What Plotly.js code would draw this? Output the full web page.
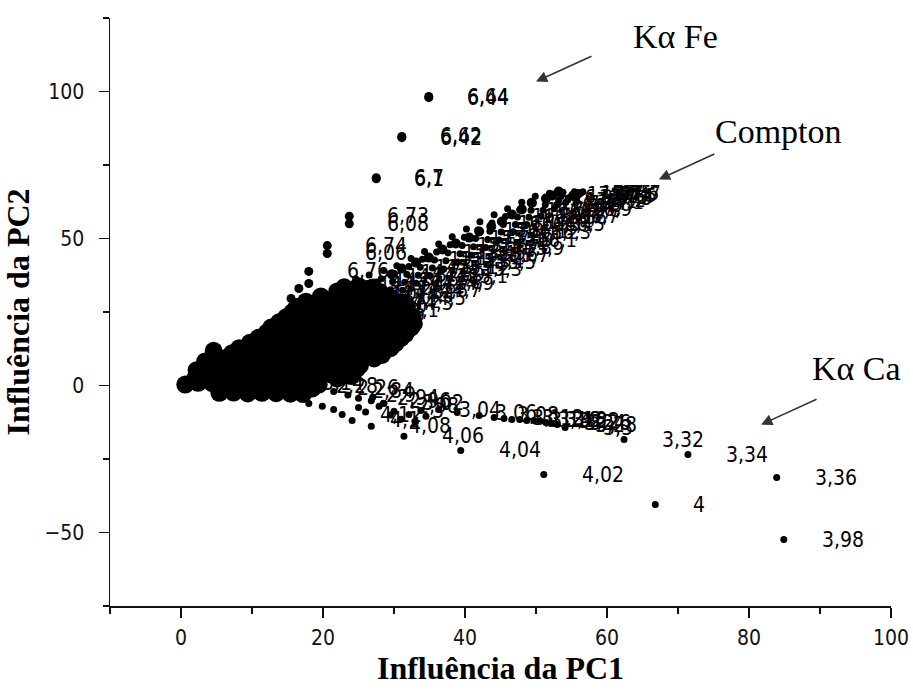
<!DOCTYPE html>
<html><head><meta charset="utf-8">
<script src="https://cdn.plot.ly/plotly-3.0.1.min.js"></script>
<style>html,body{margin:0;padding:0;background:#fff}#chart{width:913px;height:699px}</style>
</head><body><div id="chart"></div>
<script>
// ---------- DATA ----------
// Dense cloud of low-energy loadings near the origin
const blobX = [
  22, 24, 26, 28,
  17.6, 19.6, 21.6, 23.6, 25.6, 27.6, 29.6, 31,
  15.7, 17.7, 19.7, 21.7, 23.7, 25.7, 27.7, 29.7, 31.7,
  13.8, 15.8, 17.8, 19.8, 21.8, 23.8, 25.8, 27.8, 29.8, 31.8, 32.8,
  12.1, 14.1, 16.1, 18.1, 20.1, 22.1, 24.1, 26.1, 28.1, 30.1, 31.6,
  9.7, 11.7, 13.7, 15.7, 17.7, 19.7, 21.7, 23.7, 25.7, 27.7, 29.7, 30.2,
  7.2, 9.2, 11.2, 13.2, 15.2, 17.2, 19.2, 21.2, 23.2, 25.2, 27.2, 28.3,
  5.4, 7.4, 9.4, 11.4, 13.4, 15.4, 17.4, 19.4, 21.4, 23.4, 25.2,
  3.2, 5.2, 7.2, 9.2, 11.2, 13.2, 15.2, 17.2, 19.2, 21.2, 23.2, 24,
  0.6, 2.4, 4.4, 6.4, 8.4, 10.4, 12.4, 14.4, 16.4, 18.4, 19.4,
  5.4, 7.4, 9.4, 11.4, 13.4, 15.4, 17.2,
  4.6, 3.4, 2.2,
  // points on the cloud's outline
  19.7, 16.3, 14.8, 12.7, 10.9, 8.2, 6.0, 4.2, 2.0,
  29.0, 31.8, 32.6, 32.4, 31.0, 29.5, 27.2, 24.8, 22.0, 18.5,
  23.0, 25.0, 27.0
];
const blobY = [
  32, 32.3, 32.2, 31.8,
  28.5, 28.7, 28.4, 28.6, 28.5, 28.3, 28.6, 28.2,
  25, 25.2, 24.9, 25.1, 25, 24.8, 25.1, 25, 24.7,
  21.5, 21.7, 21.4, 21.6, 21.5, 21.3, 21.6, 21.5, 21.4, 21.2, 21,
  18, 18.2, 17.9, 18.1, 18, 17.8, 18.1, 18, 17.9, 17.7, 17.5,
  14.5, 14.7, 14.4, 14.6, 14.5, 14.3, 14.6, 14.5, 14.4, 14.2, 14, 14.3,
  11, 11.2, 10.9, 11.1, 11, 10.8, 11.1, 11, 10.9, 10.7, 10.5, 10.4,
  7.5, 7.7, 7.4, 7.6, 7.5, 7.3, 7.6, 7.5, 7.4, 7.2, 6.8,
  4, 4.2, 3.9, 4.1, 4, 3.8, 4.1, 4, 3.9, 3.7, 3.6, 3.2,
  0.3, 0.9, 0.8, 1, 0.8, 0.7, 1, 0.8, 0.7, 0.5, 0.3,
  -2.5, -2.4, -2.7, -2.5, -2.6, -2.8, -2.9,
  11.8, 8.2, 5.2,
  30.3, 26.7, 23.2, 19.7, 16.2, 12.7, 9.2, 5.7, 2.4,
  30.3, 26.7, 23.2, 19.7, 16.2, 12.7, 9.2, 5.7, 2.4, -1.0,
  33.4, 33.8, 33.3
];

// Compton scatter region: upper row of large dots
const comptonX = [23.9, 25.8, 27.5, 29.7, 31.1, 33.1, 34.9, 36.8, 38.7, 40.6, 42.0, 43.7, 45.2, 46.6, 48.0, 49.4, 51.4, 52.3, 53.2];
const comptonY = [31.3, 32.7, 34.7, 37.8, 39.8, 41.8, 43.5, 46.3, 48.3, 50.3, 52.4, 54.1, 55.8, 58.2, 59.9, 62.2, 63.6, 64.6, 66.0];

// Compton band: labelled points (five rows)
const bandUX  = [22.6, 24.6, 26.5, 28.5, 30.4, 32.4, 34.3, 36.3, 38.2, 40.2, 42.1, 44.1, 46.0, 48.0, 49.9, 51.9, 53.8, 55.4, 56.6];
const bandUY  = [34.8, 36.3, 37.6, 39.1, 40.7, 43.2, 45.6, 48.1, 50.6, 53.2, 55.7, 58.1, 60.1, 62.3, 64.4, 65.4, 65.7, 65.9, 65.9];
const bandUL  = ["14,1","14,3","14,5","14,7","14,9","15,1","15,3","15,5","15,7","15,9","16,1","16,3","16,5","16,7","16,9","17,1","17,3","17,5","17,7"];
const bandU2X = [22.3, 24.3, 26.2, 28.2, 30.1, 32.1, 34.0, 36.0, 37.9, 39.9, 41.8, 43.8, 45.7, 47.7, 49.6, 51.6, 53.5, 55.1, 56.3];
const bandU2Y = [31.6, 33.2, 34.7, 36.3, 38.0, 40.5, 42.9, 45.4, 47.9, 50.4, 52.9, 55.3, 57.5, 59.8, 62.0, 63.5, 64.3, 65.0, 65.4];
const bandU2L = ["14,0","14,2","14,4","14,6","14,8","15","15,2","15,4","15,6","15,8","16","16,2","16,4","16,6","16,8","17","17,2","17,4","17,6"];
const bandMX  = [22.0, 24.0, 25.9, 27.9, 29.8, 31.8, 33.7, 35.7, 37.6, 39.6, 41.5, 43.5, 45.4, 47.4, 49.3, 51.3, 53.2, 54.8, 56.0];
const bandMY  = [28.3, 30.1, 31.7, 33.5, 35.3, 37.8, 40.2, 42.7, 45.1, 47.6, 50.0, 52.5, 54.8, 57.3, 59.6, 61.5, 62.9, 64.1, 64.9];
const bandML  = ["13,9","14,1","14,3","14,5","14,7","14,9","15,1","15,3","15,5","15,7","15,9","16,1","16,3","16,5","16,7","16,9","17,1","17,3","17,5"];
const bandL2X = [21.7, 23.7, 25.6, 27.6, 29.5, 31.5, 33.4, 35.4, 37.3, 39.3, 41.2, 43.2, 45.1, 47.1, 49.0, 51.0, 52.9, 54.5, 55.7];
const bandL2Y = [25.1, 27.0, 28.8, 30.7, 32.6, 35.1, 37.5, 40.0, 42.4, 44.8, 47.2, 49.7, 52.2, 54.8, 57.2, 59.6, 61.5, 63.2, 64.4];
const bandL2L = ["13,8","14,0","14,2","14,4","14,6","14,8","15","15,2","15,4","15,6","15,8","16","16,2","16,4","16,6","16,8","17","17,2","17,4"];
const bandLX  = [21.4, 23.4, 25.3, 27.3, 29.2, 31.2, 33.1, 35.1, 37.0, 39.0, 40.9, 42.9, 44.8, 46.8, 48.7, 50.7, 52.6, 54.2, 55.4];
const bandLY  = [21.8, 23.9, 25.8, 27.9, 29.9, 32.4, 34.8, 37.3, 39.6, 42.0, 44.3, 46.9, 49.5, 52.3, 54.8, 57.6, 60.1, 62.3, 63.9];
const bandLL  = ["13,7","13,9","14,1","14,3","14,5","14,7","14,9","15,1","15,3","15,5","15,7","15,9","16,1","16,3","16,5","16,7","16,9","17,1","17,3"];

// Kα Fe arm
const feX = [34.9, 34.9, 31.1, 31.1, 27.5, 27.5, 23.7, 23.7, 20.6, 20.6, 18.0, 18.0, 16.6, 15.5];
const feY = [98.3, 97.9, 84.7, 84.3, 70.7, 70.3, 57.6, 55.0, 47.6, 44.9, 38.8, 34.7, 33.0, 29.6];
const feL = ["6,64","6,44","6,62","6,42","6,7","6,1","6,73","6,08","6,74","6,06","6,76","","",""];

// Kα Ca arm, upper row
const caUX = [28.6, 33.8, 38.9, 42.0, 44.1, 45.5, 46.6, 47.7, 48.7, 49.7, 50.6, 51.4, 52.1, 53.0, 54.1, 62.4, 71.4, 83.9];
const caUY = [-6.1, -8.5, -9.2, -10.2, -10.9, -11.2, -11.6, -11.6, -11.9, -11.9, -12.2, -12.6, -12.9, -13.3, -14.3, -18.4, -23.5, -31.3];
const caUL = ["3,02","3,04","3,06","3,08","3,1","3,12","3,14","3,16","3,18","3,2","3,22","3,24","3,26","3,28","3,3","3,32","3,34","3,36"];

// Kα Ca arm, lower row
const caLX = [18.0, 19.9, 21.5, 22.7, 24.1, 26.8, 31.4, 39.4, 51.1, 66.8, 84.9];
const caLY = [-6.1, -7.1, -8.2, -9.9, -11.9, -13.9, -17.3, -22.1, -30.3, -40.5, -52.4];
const caLL = ["", "", "", "4,12", "4,1", "4,08", "4,06", "4,04", "4,02", "4", "3,98"];

// Cluster between the cloud and the Ca arm
const cluX = [14.0, 14.5, 16.5, 19.5, 21.5, 23.5, 25.0, 26.8, 27.9, 30.0, 32.1, 34.5, 36.3, 27.0, 28.5, 29.5, 31.0, 33.0, 26.0, 25.0];
const cluY = [4.0, 1.0, 0.0, -0.8, -2.0, -3.2, -4.3, -5.2, -7.1, -8.8, -9.9, -10.5, -8.2, -4.0, -6.0, -10.0, -11.5, -12.5, -9.0, -7.5];
const cluL = ["3,12","3,14","2,28","2,26","2,84","2,9","2,94","2,96","2,98","3","","","","","","","","","",""];

// Annotation texts
const calloutText = ["K\u03b1 Fe", "Compton", "K\u03b1 Ca"];
const calloutX = [69.7, 84.2, 95.2];
const calloutY = [118.7, 86.4, 5.8];
const arrowTipX = [50.0, 67.3, 81.7];
const arrowTipY = [103.4, 70.1, -13.3];

// ---------- STYLE ----------
const sansNarrow = '"DejaVu Sans Condensed", "Liberation Sans Narrow", "Arial Narrow", "Liberation Sans", sans-serif';
const serif = '"Liberation Serif", "Times New Roman", serif';
const ink = '#000';

function dots(x, y, size) {
  return {type: 'scatter', mode: 'markers', x: x, y: y, hoverinfo: 'skip', showlegend: false,
          cliponaxis: false, marker: {color: ink, size: size, line: {width: 0}}};
}

const traces = [
  dots(blobX, blobY, 18),
  dots(bandLX, bandLY, 7),
  dots(bandL2X, bandL2Y, 7),
  dots(bandMX, bandMY, 7),
  dots(bandU2X, bandU2Y, 7),
  dots(bandUX, bandUY, 7),
  dots(comptonX, comptonY, 10),
  dots(feX, feY, 9),
  dots(cluX, cluY, 7),
  dots(caUX, caUY, 7),
  dots(caLX, caLY, 7)
];

const annotations = [];
function addLabels(xs, ys, labels, size) {
  for (let i = 0; i < xs.length; i++) {
    if (!labels[i]) continue;
    annotations.push({x: xs[i], y: ys[i], xref: 'x', yref: 'y', text: labels[i], showarrow: false,
      xanchor: 'left', yanchor: 'middle', xshift: 36,
      font: {family: sansNarrow, size: size, color: ink}});
  }
}
addLabels(bandLX, bandLY, bandLL, 20);
addLabels(bandL2X, bandL2Y, bandL2L, 20);
addLabels(bandMX, bandMY, bandML, 20);
addLabels(bandU2X, bandU2Y, bandU2L, 20);
addLabels(bandUX, bandUY, bandUL, 20);
addLabels(feX, feY, feL, 21);
addLabels(cluX, cluY, cluL, 21);
addLabels(caUX, caUY, caUL, 21);
addLabels(caLX, caLY, caLL, 21);

for (let i = 0; i < calloutText.length; i++) {
  annotations.push({x: calloutX[i], y: calloutY[i], xref: 'x', yref: 'y', text: calloutText[i],
    showarrow: false, xanchor: 'center', yanchor: 'middle',
    font: {family: serif, size: 34, color: ink}});
  annotations.push({x: arrowTipX[i], y: arrowTipY[i], xref: 'x', yref: 'y', text: '',
    showarrow: true, ax: 57, ay: -26, arrowhead: 2, arrowsize: 1.4, arrowwidth: 1.6,
    arrowcolor: '#333', standoff: 0});
}

const axisCommon = {
  ticks: 'outside', ticklen: 10, tickwidth: 1.5, tickcolor: '#111',
  showline: true, linecolor: '#111', linewidth: 1.5,
  showgrid: false, zeroline: false,
  tickfont: {family: sansNarrow, size: 21, color: '#111'}
};

const layout = {
  width: 913, height: 699,
  margin: {l: 110, r: 22, t: 18, b: 93},
  paper_bgcolor: '#fff', plot_bgcolor: '#fff',
  showlegend: false,
  xaxis: Object.assign({}, axisCommon, {
    range: [-10, 100], tick0: 0, dtick: 20,
    minor: {dtick: 10, ticks: 'outside', ticklen: 6, tickwidth: 1.5, tickcolor: '#111', showgrid: false},
    ticklabelstandoff: 2,
    title: {text: 'Influência da PC1', font: {family: serif, size: 32, weight: 'bold', color: ink}, standoff: 4}
  }),
  yaxis: Object.assign({}, axisCommon, {
    range: [-75, 125], tick0: 0, dtick: 50,
    minor: {dtick: 25, ticks: 'outside', ticklen: 6, tickwidth: 1.5, tickcolor: '#111', showgrid: false},
    ticklabelstandoff: 10,
    title: {text: 'Influência da PC2', font: {family: serif, size: 32, weight: 'bold', color: ink}, standoff: 8}
  }),
  annotations: annotations
};

Plotly.newPlot('chart', traces, layout, {staticPlot: true, displayModeBar: false});
</script></body></html>
